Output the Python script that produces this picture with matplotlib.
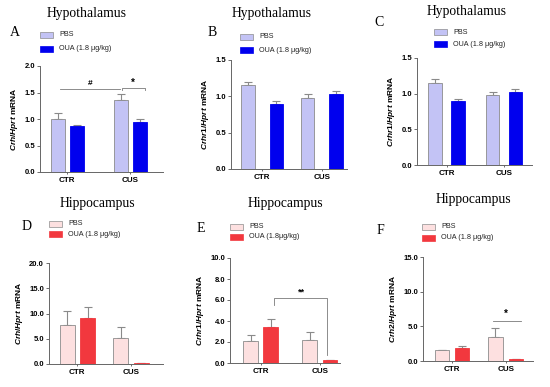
import matplotlib
matplotlib.use("Agg")
import matplotlib.pyplot as plt
from matplotlib.patches import Rectangle
import numpy as np

plt.rcParams['font.family'] = ['Liberation Sans', 'DejaVu Sans']
plt.rcParams['mathtext.fontset'] = 'custom'
plt.rcParams['mathtext.it'] = 'Liberation Sans:bold:italic'
plt.rcParams['mathtext.rm'] = 'Liberation Sans:bold'

W, H = 550, 387
fig = plt.figure(figsize=(5.5, 3.87), dpi=100)

groups = ["CTR", "CUS"]
series = ["PBS", "OUA (1.8 \u03bcg/kg)"]

# Panel values: (PBS means, OUA means, PBS err, OUA err)
A_pbs, A_oua = [1.00, 1.36], [0.86, 0.95]
A_pbs_err, A_oua_err = [0.12, 0.12], [0.02, 0.05]
B_pbs, B_oua = [1.15, 0.98], [0.90, 1.03]
B_pbs_err, B_oua_err = [0.05, 0.05], [0.03, 0.04]
C_pbs, C_oua = [1.15, 0.98], [0.90, 1.03]
C_pbs_err, C_oua_err = [0.05, 0.05], [0.03, 0.03]
D_pbs, D_oua = [7.8, 5.1], [9.2, 0.1]
D_pbs_err, D_oua_err = [2.7, 2.3], [2.0, 0.0]
E_pbs, E_oua = [2.1, 2.15], [3.4, 0.25]
E_pbs_err, E_oua_err = [0.55, 0.8], [0.8, 0.05]
F_pbs, F_oua = [1.6, 3.5], [1.9, 0.25]
F_pbs_err, F_oua_err = [0.05, 1.2], [0.2, 0.05]

LAV, BLUE = '#c3c3f5', '#0000ee'
PINK, RED = '#fde0e0', '#f2383e'
EDGE = '#8c8c8c'


def px2fig(x, y):
    return x / W, 1 - y / H


def make_axes(left, top, right, bottom):
    return fig.add_axes([left / W, 1 - bottom / H, (right - left) / W, (bottom - top) / H])


def panel(rect, pbs, oua, pbs_err, oua_err, light, dark, ymax, ystep, fmt,
          xlim, off, width, ylabel, legend_pos, legend_label2, title, title_pos,
          letter, letter_pos):
    ax = make_axes(*rect)
    x = np.arange(len(groups))
    for xs, vals, errs, col, ec in [(x - off, pbs, pbs_err, light, EDGE),
                                    (x + off, oua, oua_err, dark, dark)]:
        ax.bar(xs, vals, width=width, color=col, edgecolor=ec, linewidth=0.6, zorder=3)
        ax.errorbar(xs, vals, yerr=[np.zeros(len(errs)), errs], fmt='none',
                    ecolor='#8a8a8a', elinewidth=0.8, capsize=3.2, capthick=0.8, zorder=2)
    ax.set_ylim(0, ymax)
    ax.set_xlim(*xlim)
    ticks = np.arange(0, ymax + ystep / 2, ystep)
    ax.set_yticks(ticks)
    ax.set_yticklabels([fmt.format(t) for t in ticks], fontsize=5.5, fontweight='bold')
    ax.set_xticks(x)
    ax.set_xticklabels(groups, fontsize=5.8, fontweight='bold')
    ax.tick_params(axis='both', length=2, width=0.6, color='#555555', pad=1.5)
    ax.tick_params(axis='x', length=1.5, pad=2)
    for s in ['top', 'right']:
        ax.spines[s].set_visible(False)
    for s in ['left', 'bottom']:
        ax.spines[s].set_color('#666666')
        ax.spines[s].set_linewidth(0.7)
    ax.set_ylabel(ylabel, fontsize=6.0, labelpad=3, fontweight='bold')
    ax.patch.set_alpha(0)
    # legend
    lx, ly1, ly2 = legend_pos
    for yy, col, ec, lab in [(ly1, light, EDGE, series[0]), (ly2, dark, dark, legend_label2)]:
        fx, fy = px2fig(lx, yy + 3)
        fig.patches.append(Rectangle((fx, fy), 13 / W, 6 / H, transform=fig.transFigure,
                                     facecolor=col, edgecolor=ec, linewidth=0.5))
        tx, ty = px2fig(lx + 19, yy)
        fig.text(tx, ty, lab, fontsize=5.2, va='center', ha='left', color='#222222')
    tx, ty = px2fig(*title_pos)
    fig.text(tx, ty, title, fontsize=9.8, family='Liberation Serif', ha='center', va='center')
    tx, ty = px2fig(*letter_pos)
    fig.text(tx, ty, letter, fontsize=10, family='Liberation Serif', ha='left', va='center')
    return ax


lab_crh = r'$\mathit{Crh/Hprt}$ mRNA'
lab_crhr1 = r'$\mathit{Crhr1/Hprt}$ mRNA'
lab_crh2 = r'$\mathit{Crh2/Hprt}$ mRNA'

axA = panel((40, 66, 163, 172), A_pbs, A_oua, A_pbs_err, A_oua_err, LAV, BLUE, 2.0, 0.5, '{:.1f}',
            (-0.43, 1.52), 0.15, 0.22, lab_crh, (40, 35, 49), series[1],
            'Hypothalamus', (87, 13), 'A', (10, 32))
axB = panel((231, 60, 347, 169), B_pbs, B_oua, B_pbs_err, B_oua_err, LAV, BLUE, 1.5, 0.5, '{:.1f}',
            (-0.52, 1.42), 0.24, 0.23, lab_crhr1, (240, 37, 50), series[1],
            'Hypothalamus', (272, 14), 'B', (208, 32))
axC = panel((417, 58, 532, 165), C_pbs, C_oua, C_pbs_err, C_oua_err, LAV, BLUE, 1.5, 0.5, '{:.1f}',
            (-0.52, 1.49), 0.20, 0.24, lab_crhr1, (434, 32, 44), series[1],
            'Hypothalamus', (467, 12), 'C', (374, 22))
axD = panel((49, 263, 163, 364), D_pbs, D_oua, D_pbs_err, D_oua_err, PINK, RED, 20.0, 5.0, '{:.1f}',
            (-0.53, 1.6), 0.19, 0.28, lab_crh, (49, 224, 234), series[1],
            'Hippocampus', (97, 203), 'D', (22, 227))
axE = panel((230, 258, 340, 363), E_pbs, E_oua, E_pbs_err, E_oua_err, PINK, RED, 10.0, 2.0, '{:.1f}',
            (-0.52, 1.34), 0.17, 0.25, lab_crhr1, (230, 227, 237), "OUA (1.8\u03bcg/kg)",
            'Hippocampus', (285, 203), 'E', (197, 228))
axF = panel((423, 257, 533, 361), F_pbs, F_oua, F_pbs_err, F_oua_err, PINK, RED, 15.0, 5.0, '{:.1f}',
            (-0.54, 1.51), 0.19, 0.27, lab_crh2, (422, 227, 238), series[1],
            'Hippocampus', (473, 200), 'F', (377, 230))

lk = dict(color='#7a7a7a', linewidth=0.6, clip_on=False)
# A significance
axA.plot([-0.12, 0.84], [1.57, 1.57], **lk)
axA.text(0.36, 1.60, '#', fontsize=6, ha='center', va='bottom', fontweight='bold')
axA.plot([0.87, 0.87, 1.23, 1.23], [1.55, 1.58, 1.58, 1.55], **lk)
axA.text(1.05, 1.58, '*', fontsize=7, ha='center', va='bottom', fontweight='bold')
# E significance
axE.plot([0.22, 0.22, 1.12, 1.12], [5.5, 6.2, 6.2, 0.8], **lk)
axE.text(0.68, 6.35, '**', fontsize=6.5, ha='center', va='bottom', fontweight='bold')
# F significance
axF.plot([0.77, 1.29], [5.8, 5.8], **lk)
axF.text(1.0, 6.1, '*', fontsize=7, ha='center', va='bottom', fontweight='bold')

fig.savefig('out.png', dpi=100)
